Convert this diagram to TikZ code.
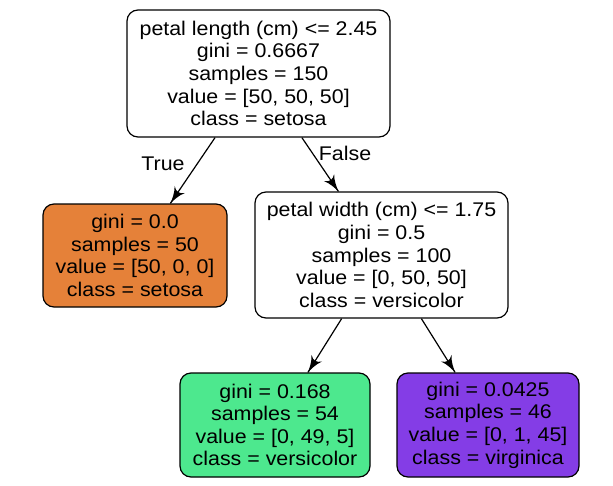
\documentclass[tikz,border=0pt]{standalone}
\usepackage{fontspec}
\setmainfont[FakeStretch=1.08]{Liberation Sans}
\usetikzlibrary{arrows}
\usetikzlibrary{decorations.markings}
\tikzset{->/.style = {decoration={markings,
                                  mark=at position 1 with {\arrow[scale=2.6]{latex'}}},
                      postaction={decorate}}}
\tikzset{box/.style = {draw, rounded corners=11pt, line width=1.2pt, align=center,
                       inner sep=0pt, font=\fontsize{19.8}{22.6}\selectfont}}
\tikzset{lbl/.style = {inner sep=0pt, font=\fontsize{19.8}{22.6}\selectfont}}
\definecolor{csetosa}{RGB}{229, 129, 57}
\definecolor{cversicolor}{RGB}{77, 232, 142}
\definecolor{cvirginica}{RGB}{132, 61, 230}

\begin{document}
\begin{tikzpicture}[x=1pt, y=-1pt]
      \useasboundingbox (0, 0) rectangle (613, 485);
      \fill [white] (0, 0) rectangle (613, 485);
      \node [box, minimum width=263pt, minimum height=127pt] (root) at (258.5, 73.5)
        {petal length (cm) <= 2.45\\ gini = 0.6667\\ samples = 150\\ value = [50, 50, 50]\\ class = setosa};
      \node [box, fill=csetosa, minimum width=184pt, minimum height=103pt] (setosa) at (135, 255.5)
        {gini = 0.0\\ samples = 50\\ value = [50, 0, 0]\\ class = setosa};
      \node [box, minimum width=253pt, minimum height=126pt] (split) at (381.5, 255)
        {petal width (cm) <= 1.75\\ gini = 0.5\\ samples = 100\\ value = [0, 50, 50]\\ class = versicolor};
      \node [box, fill=cversicolor, minimum width=190pt, minimum height=104pt] (versicolor) at (275, 425)
        {gini = 0.168\\ samples = 54\\ value = [0, 49, 5]\\ class = versicolor};
      \node [box, fill=cvirginica, minimum width=182pt, minimum height=104pt] (virginica) at (488, 425)
        {gini = 0.0425\\ samples = 46\\ value = [0, 1, 45]\\ class = virginica};
      \draw [->, line width=1.2pt] (root) -- (setosa);
      \draw [->, line width=1.2pt] (root) -- (split);
      \draw [->, line width=1.2pt] (split) -- (versicolor);
      \draw [->, line width=1.2pt] (split) -- (virginica);
      \node [lbl] (true) at (163, 164) {True};
      \node [lbl] (false) at (345, 153) {False};
    \end{tikzpicture}
\end{document}
